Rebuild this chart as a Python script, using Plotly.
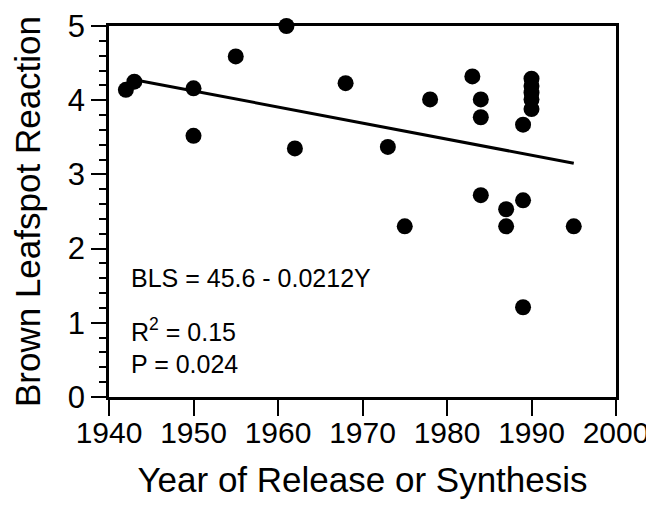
import plotly.graph_objects as go

# Data
years = [1942, 1943, 1950, 1950, 1955, 1961, 1962, 1968, 1973, 1975, 1978,
         1983, 1984, 1984, 1984, 1987, 1987, 1989, 1989, 1989,
         1990, 1990, 1990, 1990, 1990, 1995]
bls = [4.14, 4.25, 4.16, 3.52, 4.59, 5.00, 3.35, 4.23, 3.37, 2.30, 4.01,
       4.32, 4.01, 3.77, 2.72, 2.53, 2.30, 3.67, 2.65, 1.21,
       4.29, 4.19, 4.10, 4.01, 3.88, 2.30]

trend_x = [1943.3, 1995]
trend_y = [4.27, 3.15]

x_ticks = [1940, 1950, 1960, 1970, 1980, 1990, 2000]
y_ticks = [0, 1, 2, 3, 4, 5]

eq_text = "BLS = 45.6 - 0.0212Y"
r2_text = "R<sup>2</sup> = 0.15"
p_text = "P = 0.024"

FONT = "Liberation Sans"

fig = go.Figure()
fig.add_trace(go.Scatter(x=trend_x, y=trend_y, mode="lines",
                         line=dict(color="black", width=3),
                         showlegend=False, hoverinfo="skip"))
fig.add_trace(go.Scatter(x=years, y=bls, mode="markers",
                         marker=dict(color="black", size=16, line=dict(width=0)),
                         cliponaxis=False, showlegend=False))

# The page body adds an 8px margin, so the figure is sized to fit inside it.
fig.update_layout(
    width=646, height=491,
    margin=dict(l=101, r=38, t=18, b=102, autoexpand=False),
    paper_bgcolor="white", plot_bgcolor="white",
    font=dict(family=FONT, color="black"),
    xaxis=dict(range=[1940, 2000], tickvals=x_ticks, ticks="outside",
               ticklen=16, tickwidth=2, tickcolor="black",
               ticklabelstandoff=-9,
               showline=True, linecolor="black", linewidth=2.5, mirror=True,
               showgrid=False, zeroline=False, automargin=False,
               tickfont=dict(size=30, family=FONT, color="black"),
               title=dict(text="Year of Release or Synthesis",
                          font=dict(size=35, family=FONT, color="black"),
                          standoff=48)),
    yaxis=dict(range=[0, 5], tickvals=y_ticks, ticks="outside",
               ticklen=15, tickwidth=2, tickcolor="black",
               minor=dict(dtick=0.2, ticks="outside", ticklen=7,
                          tickwidth=1.5, tickcolor="black"),
               showline=True, linecolor="black", linewidth=2.5, mirror=True,
               showgrid=False, zeroline=False, automargin=False,
               tickfont=dict(size=31, family=FONT, color="black"),
               title=dict(text="Brown Leafspot Reaction",
                          font=dict(size=35, family=FONT, color="black"),
                          standoff=20)),
)

for txt, yy in [(eq_text, 0.32), (r2_text, 0.18), (p_text, 0.089)]:
    fig.add_annotation(text=txt, xref="paper", yref="paper", x=0.04, y=yy,
                       xanchor="left", yanchor="middle", showarrow=False,
                       font=dict(size=25, family=FONT, color="black"))

fig.write_html("out.html")
